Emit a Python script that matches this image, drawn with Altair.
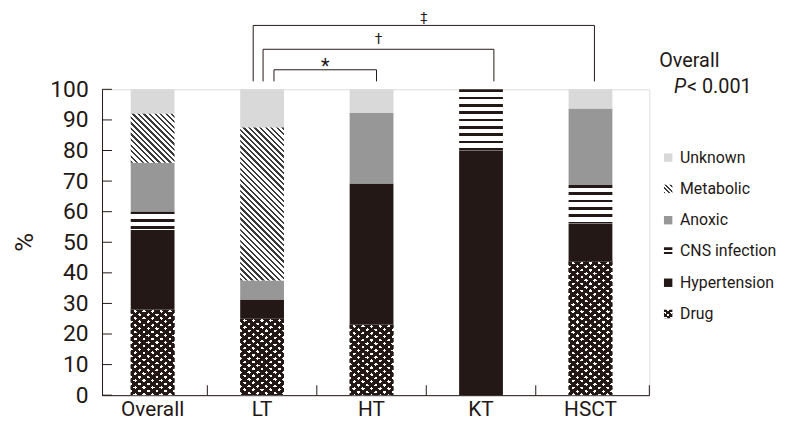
import math
import altair as alt
import pandas as pd

# ---------------- data ----------------
categories = ["Overall", "LT", "HT", "KT", "HSCT"]
causes = ["Drug", "Hypertension", "CNS infection", "Anoxic", "Metabolic", "Unknown"]
drug = [28.0, 25.0, 23.1, 0.0, 43.75]
hypertension = [26.0, 6.25, 46.1, 80.0, 12.5]
cns_infection = [6.0, 0.0, 0.0, 20.0, 12.5]
anoxic = [16.0, 6.25, 23.1, 0.0, 25.0]
metabolic = [16.0, 50.0, 0.0, 0.0, 0.0]
unknown = [8.0, 12.5, 7.7, 0.0, 6.25]
y_ticks = [0, 10, 20, 30, 40, 50, 60, 70, 80, 90, 100]
legend_order = ["Unknown", "Metabolic", "Anoxic", "CNS infection", "Hypertension", "Drug"]
comparison_from = ["LT", "LT", "LT"]
comparison_to = ["HT", "KT", "HSCT"]
comparison_marks = ["*", "\u2020", "\u2021"]
overall_title = "Overall"
overall_p_letter = "P"
overall_p_value = "< 0.001"
y_title = "%"

series = [drug, hypertension, cns_infection, anoxic, metabolic, unknown]

# ---------------- layout / style ----------------
W, H = 553, 309
STEP = W / 5.0
BAR_W = STEP * 0.4
INK = "#231815"
CLEAR = "rgba(0,0,0,0)"
FONT = "Roboto"

rows = []
for ci, cat in enumerate(categories):
    base = 0.0
    for cause, vals in zip(causes, series):
        v = vals[ci]
        if v > 0:
            rows.append({"category": cat, "cause": cause, "value": v,
                         "y0": base, "y1": base + v})
            base += v
df = pd.DataFrame(rows)
ONE = pd.DataFrame({"k": [0]})

X_SCALE = alt.Scale(domain=categories, paddingInner=0.6, paddingOuter=0.3, align=0.437)
Y_SCALE = alt.Scale(domain=[0, 100], nice=False, zero=True)
X_AXIS = alt.Axis(title=None, ticks=False, labelAngle=0, labelFont=FONT, labelFontSize=21,
                  labelColor=INK, labelPadding=4, domainColor=INK, domainWidth=1, grid=False)
Y_AXIS = alt.Axis(title=None, ticks=False, values=y_ticks, labelFont=FONT, labelFontSize=23,
                  labelColor=INK, labelPadding=14, domainColor=INK, domainWidth=1, grid=False)


def XE(field="category:N"):
    return alt.X(field, scale=X_SCALE, axis=X_AXIS)


def YE(field="y0:Q"):
    return alt.Y(field, scale=Y_SCALE, axis=Y_AXIS)


def stripe_fill(w, h, nx, ny, pitch, duty, on, off=CLEAR):
    n = math.hypot(nx, ny)
    a, b = nx / n, ny / n
    u0 = 0.0 if a >= 0 else 1.0
    v0 = 0.0 if b >= 0 else 1.0
    D = abs(a) * w + abs(b) * h
    k = D / (a * a * w * w + b * b * h * h)
    dx, dy = a * w * k, b * h * k
    x1, y1, x2, y2 = u0, v0, u0 + dx, v0 + dy
    if abs(x1) < 1e-9 and abs(x2) < 1e-9:
        x1 = x2 = 1.0
    if x2 == 0:
        x2 = 1e-6
    T = pitch / D
    stops = []
    start = 0.0
    while start < 1 - 1e-9:
        s = start
        m = min(start + duty * T, 1.0)
        e = min(start + T, 1.0)
        stops += [(s, on), (m, on), (m, off), (e, off)]
        start += T
    return {"gradient": "linear", "x1": round(x1, 5), "y1": round(y1, 5),
            "x2": round(x2, 5), "y2": round(y2, 5),
            "stops": [{"offset": round(o, 5), "color": c} for o, c in stops]}


def metabolic_fill(w, h, pitch=5.6 / math.sqrt(2)):
    return [stripe_fill(w, h, 1, -1, pitch, 0.42, "#3a3a3a")]


def cns_fill(w, h, pitch=7.4):
    return [stripe_fill(w, h, 0, 1, pitch, 0.38, INK)]


def drug_fill(w, h, P=7.0, s=0.8, duty=0.56):
    p = P / math.sqrt(1 + s * s)
    return [stripe_fill(w, h, -s, 1, p, duty, INK), stripe_fill(w, h, s, 1, p, duty, INK)]


pattern_makers = {"Metabolic": metabolic_fill, "CNS infection": cns_fill, "Drug": drug_fill}
base_colors = {"Drug": "#ffffff", "Hypertension": INK, "CNS infection": "#ffffff",
               "Anoxic": "#979797", "Metabolic": "#ffffff", "Unknown": "#d9d9d9"}

layers = []

# base stacked bars
layers.append(
    alt.Chart(df).mark_bar(strokeWidth=0).encode(
        x=XE(), y=YE(), y2="y1:Q",
        color=alt.Color("cause:N", legend=None,
                        scale=alt.Scale(domain=causes, range=[base_colors[c] for c in causes])),
    )
)

# pattern overlays, one per patterned segment
for _, r in df.iterrows():
    if r["cause"] not in pattern_makers:
        continue
    h = r["value"] / 100.0 * H
    for fill in pattern_makers[r["cause"]](BAR_W, h):
        layers.append(
            alt.Chart(df).transform_filter(
                f"datum.category === '{r['category']}' && datum.cause === '{r['cause']}'"
            ).mark_bar(fill=fill, strokeWidth=0).encode(x=XE(), y=YE(), y2="y1:Q")
        )

# inward y ticks
ytdf = pd.DataFrame({"t": y_ticks})
layers.append(
    alt.Chart(ytdf).mark_rule(color=INK, strokeWidth=1).encode(
        y=YE("t:Q"), x=alt.value(0), x2=alt.value(10))
)
# upward x ticks at band boundaries
xtdf = pd.DataFrame({"category": categories[:-1]})
layers.append(
    alt.Chart(xtdf).mark_rule(color=INK, strokeWidth=1, xOffset=STEP / 2).encode(
        x=XE(), y=alt.value(H), y2=alt.value(H - 10))
)
layers.append(
    alt.Chart(ONE).mark_rule(color=INK, strokeWidth=1).encode(
        x=alt.value(W), y=alt.value(H), y2=alt.value(H - 10))
)

# significance brackets
bracket_levels = [106.4, 113.1, 120.9]
bracket_foot = 102.6
left_offsets = [12, 1, -9]
right_offsets = [5, 13, 4]
symbol_sizes = [20, 14, 13]
symbol_dy = [3, -5.5, -4.5]
for i in range(3):
    L, R = comparison_from[i], comparison_to[i]
    lo, ro = left_offsets[i], right_offsets[i]
    bdf = pd.DataFrame({"l": [L], "r": [R], "lev": [bracket_levels[i]], "foot": [bracket_foot]})
    span = STEP * (categories.index(R) - categories.index(L))
    mid = lo + (span + ro - lo) / 2.0
    layers.append(alt.Chart(bdf).mark_rule(color=INK, strokeWidth=1, xOffset=lo, x2Offset=ro).encode(
        x=XE("l:N"), x2="r:N", y=YE("lev:Q")))
    layers.append(alt.Chart(bdf).mark_rule(color=INK, strokeWidth=1, xOffset=lo).encode(
        x=XE("l:N"), y=YE("lev:Q"), y2="foot:Q"))
    layers.append(alt.Chart(bdf).mark_rule(color=INK, strokeWidth=1, xOffset=ro).encode(
        x=XE("r:N"), y=YE("lev:Q"), y2="foot:Q"))
    layers.append(alt.Chart(bdf).mark_text(
        xOffset=mid, dy=symbol_dy[i], baseline="alphabetic", align="center",
        font=FONT, fontSize=symbol_sizes[i], color=INK).encode(
        x=XE("l:N"), y=YE("lev:Q"), text=alt.value(comparison_marks[i])))

# y title
layers.append(alt.Chart(ONE).mark_text(angle=270, font=FONT, fontSize=26, color=INK,
                                       align="center", baseline="middle").encode(
    x=alt.value(-78), y=alt.value(H / 2), text=alt.value(y_title)))

# overall p annotation
layers.append(alt.Chart(ONE).mark_text(font=FONT, fontSize=20, color=INK, align="left",
                                       baseline="middle").encode(
    x=alt.value(563), y=alt.value(-29), text=alt.value(overall_title)))
layers.append(alt.Chart(ONE).mark_text(font=FONT, fontSize=20, fontStyle="italic", color=INK,
                                       align="left", baseline="middle").encode(
    x=alt.value(578), y=alt.value(-2), text=alt.value(overall_p_letter)))
layers.append(alt.Chart(ONE).mark_text(font=FONT, fontSize=20, color=INK, align="left",
                                       baseline="middle").encode(
    x=alt.value(591), y=alt.value(-2), text=alt.value(overall_p_value)))

# manual legend
LEG_X, LEG_TX, LEG_Y0, LEG_DY, SYM = 572, 584, 69, 31.6, 8.5
legend_fills = {
    "Unknown": [base_colors["Unknown"]],
    "Metabolic": ["#ffffff", stripe_fill(SYM, SYM, 1, -1, 3.2, 0.45, "#3a3a3a")],
    "Anoxic": [base_colors["Anoxic"]],
    "CNS infection": ["#ffffff", stripe_fill(SYM, SYM, 0, 1, 4.6, 0.5, INK)],
    "Hypertension": [INK],
    "Drug": ["#ffffff"] + drug_fill(SYM, SYM, P=5.0, s=0.8, duty=0.5),
}
for i, name in enumerate(legend_order):
    yy = LEG_Y0 + i * LEG_DY
    for fill in legend_fills[name]:
        layers.append(alt.Chart(ONE).mark_square(size=SYM * SYM, fill=fill, opacity=1,
                                                 strokeWidth=0).encode(
            x=alt.value(LEG_X), y=alt.value(yy)))
    layers.append(alt.Chart(ONE).mark_text(font=FONT, fontSize=16, color=INK, align="left",
                                           baseline="middle").encode(
        x=alt.value(LEG_TX), y=alt.value(yy), text=alt.value(name)))

chart = alt.layer(*layers).properties(
    width=W, height=H,
    autosize=alt.AutoSizeParams(type="none"),
    padding={"left": 95, "top": 80, "right": 132, "bottom": 33},
).configure_view(stroke=None).configure(background="#ffffff")

chart.save("out.html", embed_options={"renderer": "svg", "actions": False})
